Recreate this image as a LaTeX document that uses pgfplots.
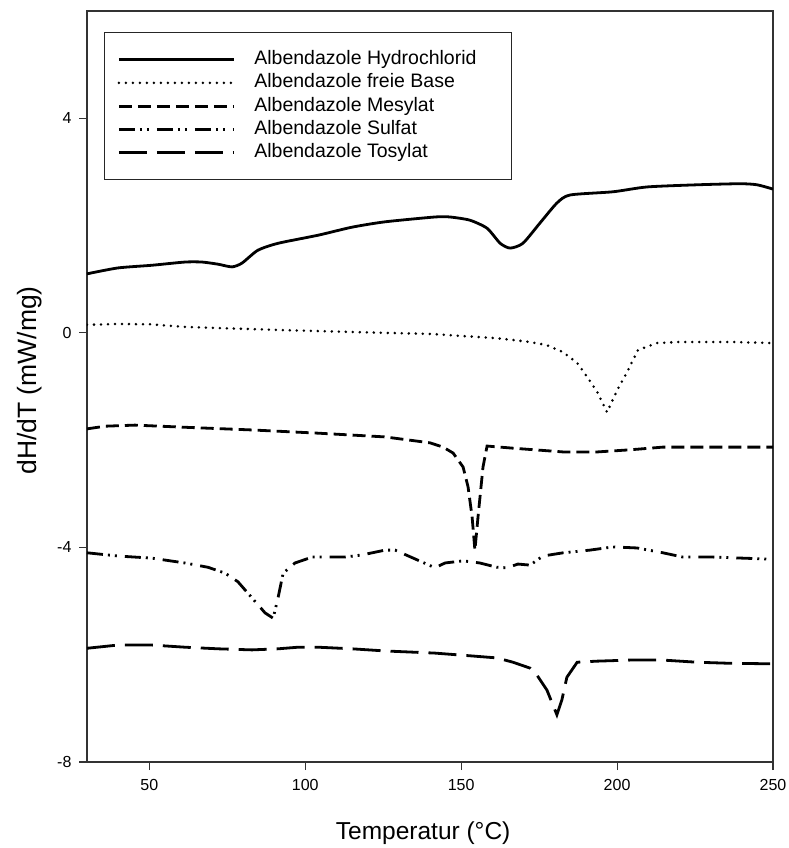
\documentclass[border=0pt]{standalone}
\usepackage{pgfplots}
\pgfplotsset{compat=1.18}
\usepackage{fontspec}
\setmainfont{Liberation Sans}
\newcommand{\LE}[1]{\makebox[244pt][l]{#1}}
\begin{document}
\begin{tikzpicture}
\useasboundingbox (-87pt,-86pt) rectangle (702pt,762pt);
\begin{axis}[
  at={(0,0)}, anchor=south west,
  scale only axis, width=686pt, height=751pt,
  xmin=30, xmax=250, ymin=-8, ymax=6,
  xtick={50,100,150,200,250}, xticklabels={50,100,150,200,250},
  ytick={-8,-4,0,4}, yticklabels={-8,-4,0,4},
  tick pos=left, tick align=outside, major tick length=8pt,
  axis line style={line width=1.2pt, color=black!80},
  tick style={line width=1.1pt, color=black!80},
  ticklabel style={font=\fontsize{16}{19}\selectfont},
  xticklabel style={yshift=-6pt},
  yticklabel style={xshift=-4pt},
  xlabel={Temperatur (°C)}, ylabel={dH/dT (mW/mg)},
  xlabel style={font=\fontsize{24.5}{28}\selectfont, at={(axis description cs:0.49,-0.0945)}, anchor=center},
  ylabel style={font=\fontsize{26.5}{30}\selectfont, at={(axis description cs:-0.0830,0.508)}, anchor=center, rotate=0},
  legend image code/.code={\draw[#1] (0pt,0pt) -- (115pt,0pt);},
  legend style={at={(axis description cs:0.0248,0.972)}, anchor=north west,
    draw=black!85, line width=1.1pt, inner xsep=13pt, inner ysep=17pt,
    font=\fontsize{19.5}{23}\selectfont, cells={anchor=west},
    nodes={inner sep=0pt, text height=15pt, text depth=5pt},
    row sep=3.3pt, column sep=19pt},
  every axis plot/.append style={line width=2.8pt, black},
]
% Hydrochlorid
\addplot[solid, smooth, tension=0.4] coordinates {
(30,1.10) (39.9,1.21) (50.8,1.26) (61.4,1.32) (66.9,1.32) (72.0,1.28) (76.5,1.23)
(79.7,1.30) (84.8,1.54) (91.3,1.67) (104.1,1.82) (115.0,1.97) (125.6,2.07) (141.6,2.16)
(146.4,2.16) (152.8,2.10) (158.3,1.95) (162.5,1.67) (165.7,1.58) (169.8,1.67) (175.3,2.05)
(180.7,2.42) (184.9,2.57) (198.7,2.63) (209.6,2.72) (225.6,2.76) (239.4,2.78) (244.9,2.76) (250,2.68)};
\addlegendentry{\LE{Albendazole Hydrochlorid}}
% freie Base
\addplot[line cap=round, dash pattern=on 0pt off 7pt] coordinates {
(30,0.15) (39.9,0.165) (50,0.16) (61.4,0.11) (93.5,0.05) (125.6,0.0) (140.0,-0.02)
(161.5,-0.10) (172.1,-0.17) (177.5,-0.23) (182.7,-0.36) (187.2,-0.56) (190.4,-0.82)
(193.6,-1.10) (196.8,-1.48) (200.0,-1.07) (203.2,-0.73) (206.7,-0.32) (212.8,-0.19)
(220.2,-0.17) (236.2,-0.17) (250,-0.19)};
\addlegendentry{\LE{Albendazole freie Base}}
% Mesylat
\addplot[dash pattern=on 13pt off 6pt] coordinates {
(30,-1.79) (35.8,-1.74) (45.4,-1.72) (61.4,-1.76) (82.9,-1.81) (104.1,-1.87) (125.6,-1.94)
(140.0,-2.05) (144.2,-2.13) (147.4,-2.24) (150.6,-2.50) (152.2,-2.87) (153.5,-3.43)
(154.4,-4.05) (155.4,-3.43) (157.0,-2.50) (158.3,-2.11) (166.6,-2.15) (182.7,-2.22)
(193.6,-2.22) (204.2,-2.18) (214.7,-2.13) (230.8,-2.13) (250,-2.13)};
\addlegendentry{\LE{Albendazole Mesylat}}
% Sulfat
\addplot[dash pattern=on 16pt off 5pt on 2pt off 5pt on 2pt off 8pt] coordinates {
(30,-4.10) (39.9,-4.16) (50.8,-4.20) (61.4,-4.29) (68.8,-4.37) (74.3,-4.48) (78.4,-4.64)
(82.9,-4.94) (87.1,-5.22) (89.7,-5.32) (91.3,-4.93) (92.9,-4.48) (96.7,-4.29) (102.2,-4.18)
(112.7,-4.18) (118.2,-4.14) (125.6,-4.05) (128.8,-4.05) (136.2,-4.24) (141.6,-4.38)
(144.8,-4.29) (150.6,-4.25) (156.0,-4.29) (161.5,-4.37) (164.7,-4.38) (168.2,-4.31)
(172.1,-4.33) (176.2,-4.16) (182.7,-4.10) (191.3,-4.05) (198.7,-3.99) (206.4,-4.01)
(214.7,-4.10) (221.1,-4.18) (230.8,-4.18) (250,-4.22)};
\addlegendentry{\LE{Albendazole Sulfat}}
% Tosylat
\addplot[dash pattern=on 28pt off 10pt] coordinates {
(30,-5.88) (39.9,-5.82) (50.8,-5.82) (61.4,-5.86) (72.0,-5.89) (82.9,-5.91) (91.3,-5.89)
(97.7,-5.86) (104.1,-5.86) (115.0,-5.89) (125.6,-5.93) (141.6,-5.97) (150.6,-6.01)
(161.5,-6.06) (166.6,-6.14) (172.1,-6.25) (174.3,-6.38) (177.5,-6.66) (180.7,-7.12)
(182.3,-6.84) (183.9,-6.42) (187.2,-6.14) (193.6,-6.12) (204.2,-6.10) (214.7,-6.10)
(225.6,-6.14) (236.2,-6.16) (250,-6.17)};
\addlegendentry{\LE{Albendazole Tosylat}}
\end{axis}
\end{tikzpicture}
\end{document}
